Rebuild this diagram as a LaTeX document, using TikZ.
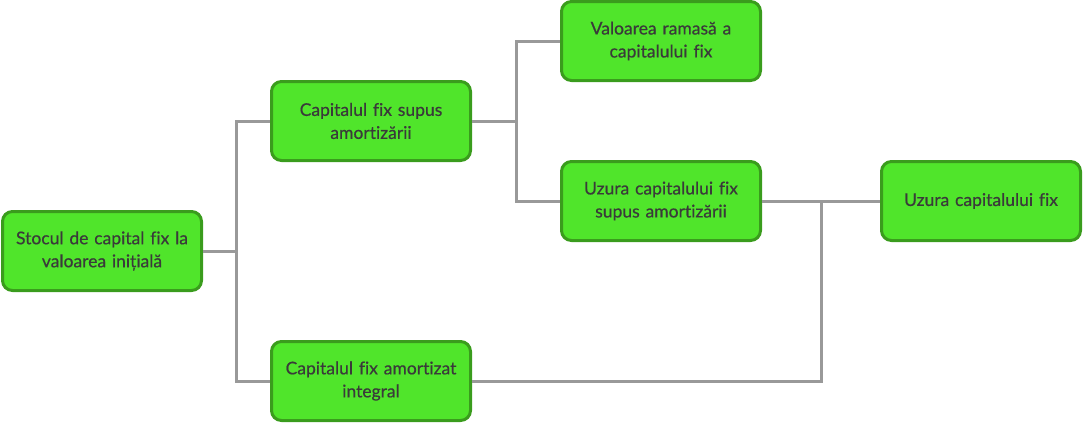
\documentclass[tikz,border=0pt]{standalone}
\usepackage{fontspec}
\setmainfont{Lato}[Ligatures=NoCommon, FakeBold=0.5]
\usepackage{tikz}
\definecolor{boxgreen}{HTML}{50E52B}
\definecolor{boxedge}{HTML}{3A9C1D}
\definecolor{linkgray}{HTML}{999999}
\definecolor{textgray}{HTML}{3A3A3A}
\tikzset{
  stocbox/.style={draw=boxedge, fill=boxgreen, line width=3pt, rounded corners=10pt,
    minimum width=199pt, minimum height=79pt, inner sep=2pt, align=center,
    text width=190pt, text=textgray, font=\fontsize{17.5}{23}\selectfont},
  link/.style={draw=linkgray, line width=3pt}
}
\begin{document}
\begin{tikzpicture}[x=1pt,y=-1pt]
			\useasboundingbox (0,0) rectangle (1083,423);
			% boxes
			\node[stocbox] (stoc) at (102,251) {Stocul de capital fix la\\valoarea inițială};
			\node[stocbox] (supus) at (371,121) {Capitalul fix supus\\amortizării};
			\node[stocbox] (integral) at (371,381) {Capitalul fix amortizat\\integral};
			\node[stocbox] (ramasa) at (661,41) {Valoarea ramasă a\\capitalului fix};
			\node[stocbox] (uzsupus) at (661,201) {Uzura capitalului fix\\supus amortizării};
			\node[stocbox] (uzura) at (981,201) {Uzura capitalului fix};
			
			% connectors
			\coordinate (j1) at (236,251);
			\coordinate (j2) at (516,121);
			\coordinate (j3) at (821,201);
			\draw[link] (stoc.east) -- (j1);
			\draw[link] (supus.west) -| (j1) |- (integral.west);
			\draw[link] (supus.east) -- (j2);
			\draw[link] (ramasa.west) -| (j2) |- (uzsupus.west);
			\draw[link] (uzsupus.east) -- (uzura.west);
			\draw[link] (integral.east) -| (j3);
		\end{tikzpicture}
\end{document}
